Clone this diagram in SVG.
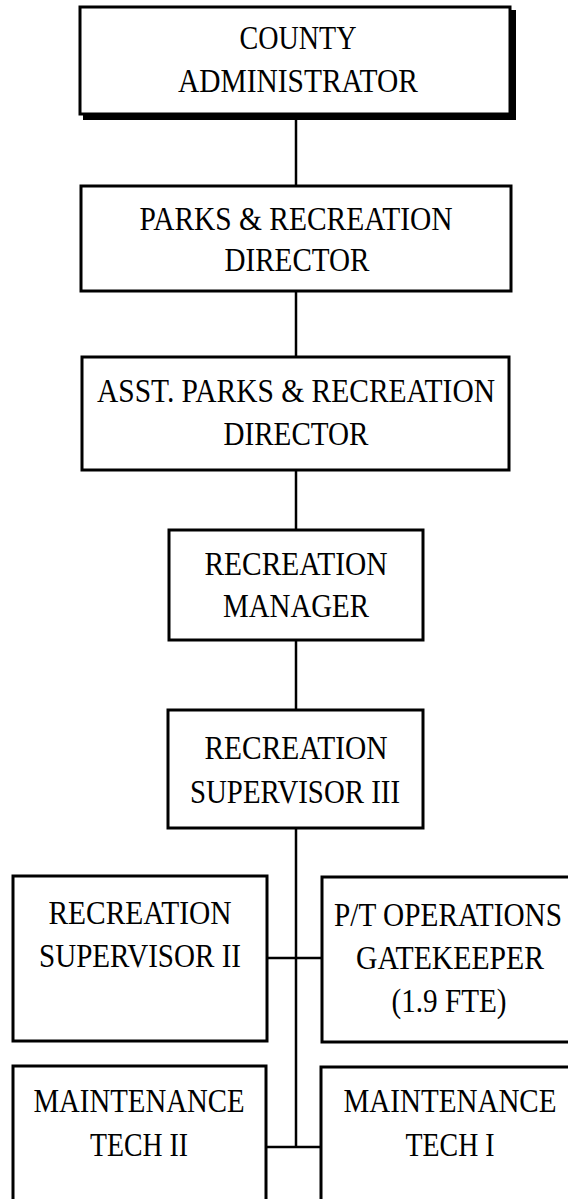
<svg xmlns="http://www.w3.org/2000/svg" width="568" height="1199" viewBox="0 0 568 1199">
  <style>
    .box { fill: #ffffff; stroke: #000000; stroke-width: 3; }
    .shadow { fill: #000000; }
    .lbl { font-family: "Liberation Serif", "Times New Roman", serif; font-size: 33px; fill: #000000; text-anchor: middle; }
    .conn { stroke: #000000; stroke-width: 2.5; fill: none; }
  </style>
  <rect width="568" height="1199" fill="#ffffff"/>

  <!-- reporting lines -->
  <g id="connectors">
    <line class="conn" x1="296" y1="116" x2="296" y2="186"/>
    <line class="conn" x1="296" y1="291" x2="296" y2="357"/>
    <line class="conn" x1="296" y1="470" x2="296" y2="530"/>
    <line class="conn" x1="296" y1="640" x2="296" y2="710"/>
    <line class="conn" x1="296" y1="828" x2="296" y2="1147"/>
    <line class="conn" x1="267" y1="958" x2="322" y2="958"/>
    <line class="conn" x1="266" y1="1147" x2="321" y2="1147"/>
  </g>

  <g id="county-administrator">
    <rect class="shadow" x="83" y="10" width="433" height="110"/>
    <rect class="box" x="80" y="7" width="430" height="107"/>
    <text class="lbl" x="298" y="49" textLength="117" lengthAdjust="spacingAndGlyphs">COUNTY</text>
    <text class="lbl" x="298" y="92" textLength="240" lengthAdjust="spacingAndGlyphs">ADMINISTRATOR</text>
  </g>

  <g id="parks-recreation-director">
    <rect class="box" x="81" y="186" width="430" height="105"/>
    <text class="lbl" x="296" y="230" textLength="313" lengthAdjust="spacingAndGlyphs">PARKS &amp; RECREATION</text>
    <text class="lbl" x="297" y="271" textLength="145" lengthAdjust="spacingAndGlyphs">DIRECTOR</text>
  </g>

  <g id="asst-parks-recreation-director">
    <rect class="box" x="82" y="357" width="427" height="113"/>
    <text class="lbl" x="296" y="402" textLength="398" lengthAdjust="spacingAndGlyphs">ASST. PARKS &amp; RECREATION</text>
    <text class="lbl" x="296" y="445" textLength="145" lengthAdjust="spacingAndGlyphs">DIRECTOR</text>
  </g>

  <g id="recreation-manager">
    <rect class="box" x="169" y="530" width="254" height="110"/>
    <text class="lbl" x="296" y="575" textLength="183" lengthAdjust="spacingAndGlyphs">RECREATION</text>
    <text class="lbl" x="296" y="617" textLength="146" lengthAdjust="spacingAndGlyphs">MANAGER</text>
  </g>

  <g id="recreation-supervisor-iii">
    <rect class="box" x="168" y="710" width="255" height="118"/>
    <text class="lbl" x="296" y="759" textLength="183" lengthAdjust="spacingAndGlyphs">RECREATION</text>
    <text class="lbl" x="295" y="803" textLength="210" lengthAdjust="spacingAndGlyphs">SUPERVISOR III</text>
  </g>

  <g id="recreation-supervisor-ii">
    <rect class="box" x="13" y="876" width="254" height="165"/>
    <text class="lbl" x="140" y="924" textLength="183" lengthAdjust="spacingAndGlyphs">RECREATION</text>
    <text class="lbl" x="140" y="967" textLength="202" lengthAdjust="spacingAndGlyphs">SUPERVISOR II</text>
  </g>

  <g id="pt-operations-gatekeeper">
    <rect class="box" x="322" y="877" width="260" height="165"/>
    <text class="lbl" x="448" y="926" textLength="228" lengthAdjust="spacingAndGlyphs">P/T OPERATIONS</text>
    <text class="lbl" x="450" y="969" textLength="188" lengthAdjust="spacingAndGlyphs">GATEKEEPER</text>
    <text class="lbl" x="449" y="1012" textLength="115" lengthAdjust="spacingAndGlyphs">(1.9 FTE)</text>
  </g>

  <g id="maintenance-tech-ii">
    <rect class="box" x="13" y="1066" width="253" height="150"/>
    <text class="lbl" x="139" y="1112" textLength="211" lengthAdjust="spacingAndGlyphs">MAINTENANCE</text>
    <text class="lbl" x="139" y="1156" textLength="98" lengthAdjust="spacingAndGlyphs">TECH II</text>
  </g>

  <g id="maintenance-tech-i">
    <rect class="box" x="321" y="1067" width="260" height="150"/>
    <text class="lbl" x="450" y="1112" textLength="213" lengthAdjust="spacingAndGlyphs">MAINTENANCE</text>
    <text class="lbl" x="450" y="1156" textLength="89" lengthAdjust="spacingAndGlyphs">TECH I</text>
  </g>
</svg>
